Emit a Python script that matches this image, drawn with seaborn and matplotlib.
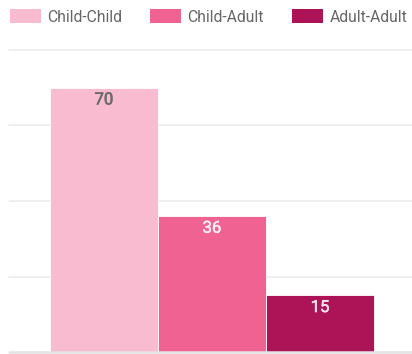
import matplotlib
matplotlib.use("Agg")
import matplotlib.pyplot as plt
import matplotlib.patheffects as pe
import seaborn as sns
import pandas as pd
from matplotlib.patches import Patch

series = ["Child-Child", "Child-Adult", "Adult-Adult"]
values = [70, 36, 15]
colors = ["#f8bbd0", "#f06292", "#ad1457"]
label_colors = ["#686868", "#fbeef3", "#f5e6ec"]
yticks = [0, 20, 40, 60, 80]

sns.set_theme(style="white")
plt.rcParams['font.family'] = ['Roboto', 'DejaVu Sans']

df = pd.DataFrame({"group": ["all"] * len(series), "series": series, "value": values})

W, H = 412, 354
fig = plt.figure(figsize=(W / 100, H / 100), dpi=100)
ax = fig.add_axes([9 / W, 2 / H, (412 - 9) / W, (352 - 50) / H])

sns.barplot(data=df, x="group", y="value", hue="series", hue_order=series,
            palette=colors, saturation=1, width=0.8, ax=ax, legend=False,
            edgecolor="white", linewidth=0.6, zorder=2)

ax.set_ylim(0, 80)
ax.set_xlim(-0.501, 0.494)
ax.set_yticks(yticks)
ax.set_yticklabels([])
ax.set_xticks([])
ax.set_xlabel("")
ax.set_ylabel("")
for s in ax.spines.values():
    s.set_visible(False)
for t in yticks[1:]:
    ax.axhline(t, color="#ebebeb", lw=1.1, zorder=1, clip_on=False)
ax.axhline(0, color="#e3e3e3", lw=1.8, zorder=5, clip_on=False)

for bar, v, lc in zip(ax.patches, values, label_colors):
    ax.annotate(f"{v}", (bar.get_x() + bar.get_width() / 2, bar.get_height()),
                xytext=(0, -12.0), textcoords="offset points",
                ha="center", va="baseline", fontsize=12,
                color=lc, zorder=6,
                path_effects=[pe.withStroke(linewidth=0.35, foreground=lc)])

legend_x = [10, 150, 292]
for s, c, lx in zip(series, colors, legend_x):
    h = [Patch(facecolor=c, edgecolor="none", label=s)]
    fig.legend(handles=h, loc="center left", bbox_to_anchor=(lx / W, 1 - 17 / H),
               ncol=1, frameon=False, fontsize=11.3, handlelength=2.0, handleheight=1.0,
               handletextpad=0.38, borderpad=0, borderaxespad=0,
               labelcolor="#666666")

fig.savefig("out.png", dpi=100)
